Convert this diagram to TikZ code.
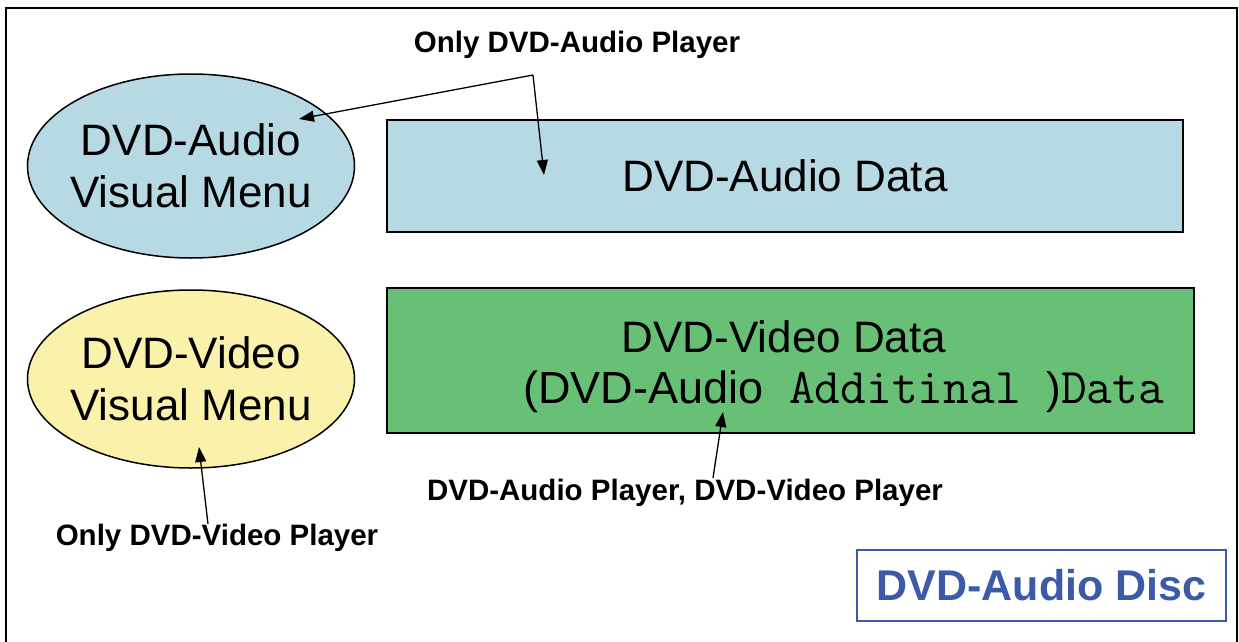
\documentclass[tikz,border=0pt]{standalone}
\usepackage{fontspec}
\setmainfont{Liberation Sans}
\usetikzlibrary{shapes.geometric,arrows.meta}

\definecolor{audioblue}{RGB}{183,217,228}
\definecolor{videoyellow}{RGB}{250,241,170}
\definecolor{videogreen}{RGB}{103,192,118}
\definecolor{discblue}{RGB}{60,90,168}
\newcommand{\bigtxt}{\fontsize{44}{52}\selectfont}
\newcommand{\monotxt}{\fontsize{50}{52}\selectfont\ttfamily}
\newcommand{\labtxt}{\fontsize{29.5}{34}\selectfont\bfseries}

\begin{document}
\begin{tikzpicture}[x=1pt,y=-1pt,
    menu/.style={ellipse,draw,line width=1.5pt,minimum width=327pt,minimum height=184pt,
      inner xsep=-10pt,inner ysep=0pt,align=center,font=\bigtxt},
    databox/.style={rectangle,draw,line width=1.8pt,inner sep=0pt,font=\bigtxt},
    player/.style={inner sep=0pt,font=\labtxt},
    pointer/.style={line width=1.3pt,-{Triangle[length=15pt,width=11pt]}}]
    \useasboundingbox (0,0) rectangle (1239,642);
    % outer frame, open at the bottom
    \draw[line width=2.5pt] (6,660) -- (6,8) -- (1237,8) -- (1237,660);

    % menus and data
    \node[menu,fill=audioblue] (amenu) at (191,166) {DVD-Audio\\Visual Menu};
    \node[menu,fill=videoyellow,minimum height=178pt] (vmenu) at (191,379) {DVD-Video\\Visual Menu};
    \node[databox,fill=audioblue,minimum width=796pt,minimum height=112pt] (adata) at (785,176) {DVD-Audio Data};
    \node[databox,fill=videogreen,minimum width=807pt,minimum height=145pt] (vdata) at (790.5,360.5) {};
    \node[font=\bigtxt,inner sep=0pt] (vline) at (784,337) {DVD-Video Data};
    \node[inner sep=0pt,anchor=base west] (aline) at (523,403)
      {\fontsize{45}{52}\selectfont(DVD-Audio{\monotxt{} Additinal }\bigtxt)\monotxt{}Data};

    % who can play what
    \node[player] (alabel) at (577,45) {Only DVD-Audio Player};
    \node[player] (blabel) at (685,493) {DVD-Audio Player, DVD-Video Player};
    \node[player] (vlabel) at (217,538) {Only DVD-Video Player};
    \coordinate (fork) at (533,75);
    \coordinate (amenutip) at (299,119);
    \coordinate (adatatip) at (544,175);
    \coordinate (btail) at (713,478);
    \coordinate (btip) at (723,412);
    \coordinate (vtail) at (208,524);
    \coordinate (vmenutip) at (199,447);
    \draw[pointer] (fork) -- (amenutip);
    \draw[pointer] (fork) -- (adatatip);
    \draw[pointer] (btail) -- (btip);
    \draw[pointer] (vtail) -- (vmenutip);

    % disc name
    \node[rectangle,draw=discblue,line width=1.5pt,minimum width=369pt,minimum height=71pt,
      text=discblue,font=\fontsize{43}{50}\selectfont\bfseries] (disc) at (1041.5,585.5) {DVD-Audio Disc};
\end{tikzpicture}
\end{document}
